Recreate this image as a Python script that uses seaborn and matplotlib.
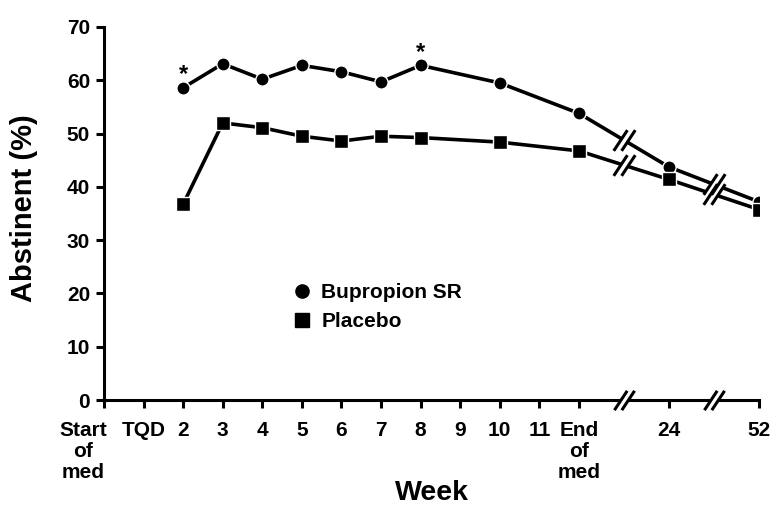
import matplotlib
matplotlib.use("Agg")
import matplotlib.pyplot as plt
import matplotlib.transforms as mtransforms
from matplotlib.lines import Line2D
from matplotlib.path import Path
import numpy as np
import pandas as pd
import seaborn as sns


# x-axis categories (as printed on the chart)
TICK_LABELS = ["Start\nof\nmed", "TQD", "2", "3", "4", "5", "6", "7", "8",
               "9", "10", "11", "End\nof\nmed", "24", "52"]

# weeks that have measurements
WEEKS = ["2", "3", "4", "5", "6", "7", "8", "10", "End\nof\nmed", "24", "52"]
BUPROPION = [58.6, 63.1, 60.2, 62.8, 61.6, 59.7, 62.8, 59.5, 53.8, 43.75, 37.2]
PLACEBO = [36.75, 52.0, 51.1, 49.5, 48.6, 49.5, 49.25, 48.4, 46.75, 41.4, 35.75]
SIGNIFICANT = ["2", "8"]
Y_TICKS = [0, 10, 20, 30, 40, 50, 60, 70]

# layout: equally spaced weeks, wider gaps across the axis breaks
TICK_POS = list(range(13)) + [14.27, 16.55]
POS = dict(zip(TICK_LABELS, TICK_POS))

FONT = ["Liberation Sans", "DejaVu Sans"]


def break_marker():
    # two slanted strokes "//" and the white parallelogram between them
    c, dx = 0.19, 0.33
    strokes = Path(
        [(-c - dx, -0.5), (-c + dx, 0.5), (c - dx, -0.5), (c + dx, 0.5)],
        [Path.MOVETO, Path.LINETO, Path.MOVETO, Path.LINETO],
    )
    gap = Path(
        [(-c - dx, -0.5), (c - dx, -0.5), (c + dx, 0.5), (-c + dx, 0.5), (-c - dx, -0.5)],
        [Path.MOVETO, Path.LINETO, Path.LINETO, Path.LINETO, Path.CLOSEPOLY],
    )
    return strokes, gap


def draw_breaks(ax, xs, ys, size=14.5):
    strokes, gap = break_marker()
    ax.plot(xs, ys, linestyle="none", marker=gap, markersize=size,
            markerfacecolor="white", markeredgecolor="none", clip_on=False, zorder=6)
    ax.plot(xs, ys, linestyle="none", marker=strokes, markersize=size,
            markeredgecolor="black", markeredgewidth=2.2, clip_on=False, zorder=7)


def main():
    sns.set_theme(style="ticks")
    plt.rcParams["font.family"] = FONT
    plt.rcParams["font.weight"] = "bold"
    for key in ["text.color", "axes.labelcolor", "xtick.color", "ytick.color"]:
        plt.rcParams[key] = "black"

    df = pd.concat(
        [
            pd.DataFrame({"week": WEEKS, "pct": BUPROPION, "group": "Bupropion SR"}),
            pd.DataFrame({"week": WEEKS, "pct": PLACEBO, "group": "Placebo"}),
        ],
        ignore_index=True,
    )
    df["pos"] = df["week"].map(POS)

    fig = plt.figure(figsize=(7.83, 5.07), dpi=100)
    ax = fig.add_axes([104 / 783, 1 - 400 / 507, 655 / 783, 373 / 507])

    sns.lineplot(
        data=df, x="pos", y="pct", hue="group", style="group",
        markers={"Bupropion SR": "o", "Placebo": "s"}, dashes=False,
        palette={"Bupropion SR": "black", "Placebo": "black"},
        linewidth=2.6, markersize=9.5, markeredgecolor="white", markeredgewidth=1.0,
        legend=False, ax=ax, zorder=3,
    )

    # axis-break marks on both lines and on the x axis
    x_end, x24, x52 = POS["End\nof\nmed"], POS["24"], POS["52"]
    mids = np.array([(x_end + x24) / 2, (x24 + x52) / 2])
    xs = df.loc[df["group"] == "Bupropion SR", "pos"].to_numpy()
    draw_breaks(ax, mids, np.interp(mids, xs, BUPROPION), size=15.5)
    draw_breaks(ax, mids, np.interp(mids, xs, PLACEBO), size=15.5)
    draw_breaks(ax, mids, [0, 0])

    # significance asterisks
    for wk in SIGNIFICANT:
        ax.annotate("*", (POS[wk], BUPROPION[WEEKS.index(wk)]), xytext=(0, 4.5),
                    textcoords="offset points", ha="center", va="baseline",
                    fontsize=17, fontweight="bold")

    ax.set_xlim(0, TICK_POS[-1])
    ax.set_ylim(0, 70)
    ax.set_xticks(TICK_POS)
    ax.set_xticklabels(TICK_LABELS, fontsize=15, fontweight="bold", linespacing=1.15)
    ax.set_yticks(Y_TICKS)
    ax.set_yticklabels([str(v) for v in Y_TICKS], fontsize=15, fontweight="bold")
    ax.tick_params(axis="both", length=6, width=2.2, color="black")
    ax.tick_params(axis="x", pad=9)
    ax.tick_params(axis="y", pad=4)

    # "Start of med" label sits left of its tick
    shift = mtransforms.ScaledTranslation(-21 / 100, 0, fig.dpi_scale_trans)
    first = ax.get_xticklabels()[0]
    first.set_transform(first.get_transform() + shift)

    for side in ["left", "bottom"]:
        ax.spines[side].set_linewidth(2.2)
        ax.spines[side].set_color("black")
    sns.despine(ax=ax)

    ax.set_xlabel("Week", fontsize=20.5, fontweight="bold")
    ax.set_ylabel("Abstinent (%)", fontsize=21, fontweight="bold")
    ax.xaxis.set_label_coords(0.5, -0.215)
    ax.yaxis.set_label_coords(-0.10, 0.515)

    handles = [
        Line2D([], [], linestyle="none", marker="o", color="black", markersize=9.5),
        Line2D([], [], linestyle="none", marker="s", color="black", markersize=9.5),
    ]
    ax.legend(handles, ["Bupropion SR", "Placebo"], loc="upper left",
              bbox_to_anchor=(292 / 783, 1 - 283 / 507), bbox_transform=fig.transFigure,
              frameon=False, borderpad=0, borderaxespad=0, handlelength=1.0,
              handletextpad=0.4, labelspacing=0.5,
              prop={"size": 15, "weight": "bold", "family": FONT})

    fig.savefig("out.png", dpi=100, facecolor="white")
    plt.close(fig)


if __name__ == "__main__":
    main()
